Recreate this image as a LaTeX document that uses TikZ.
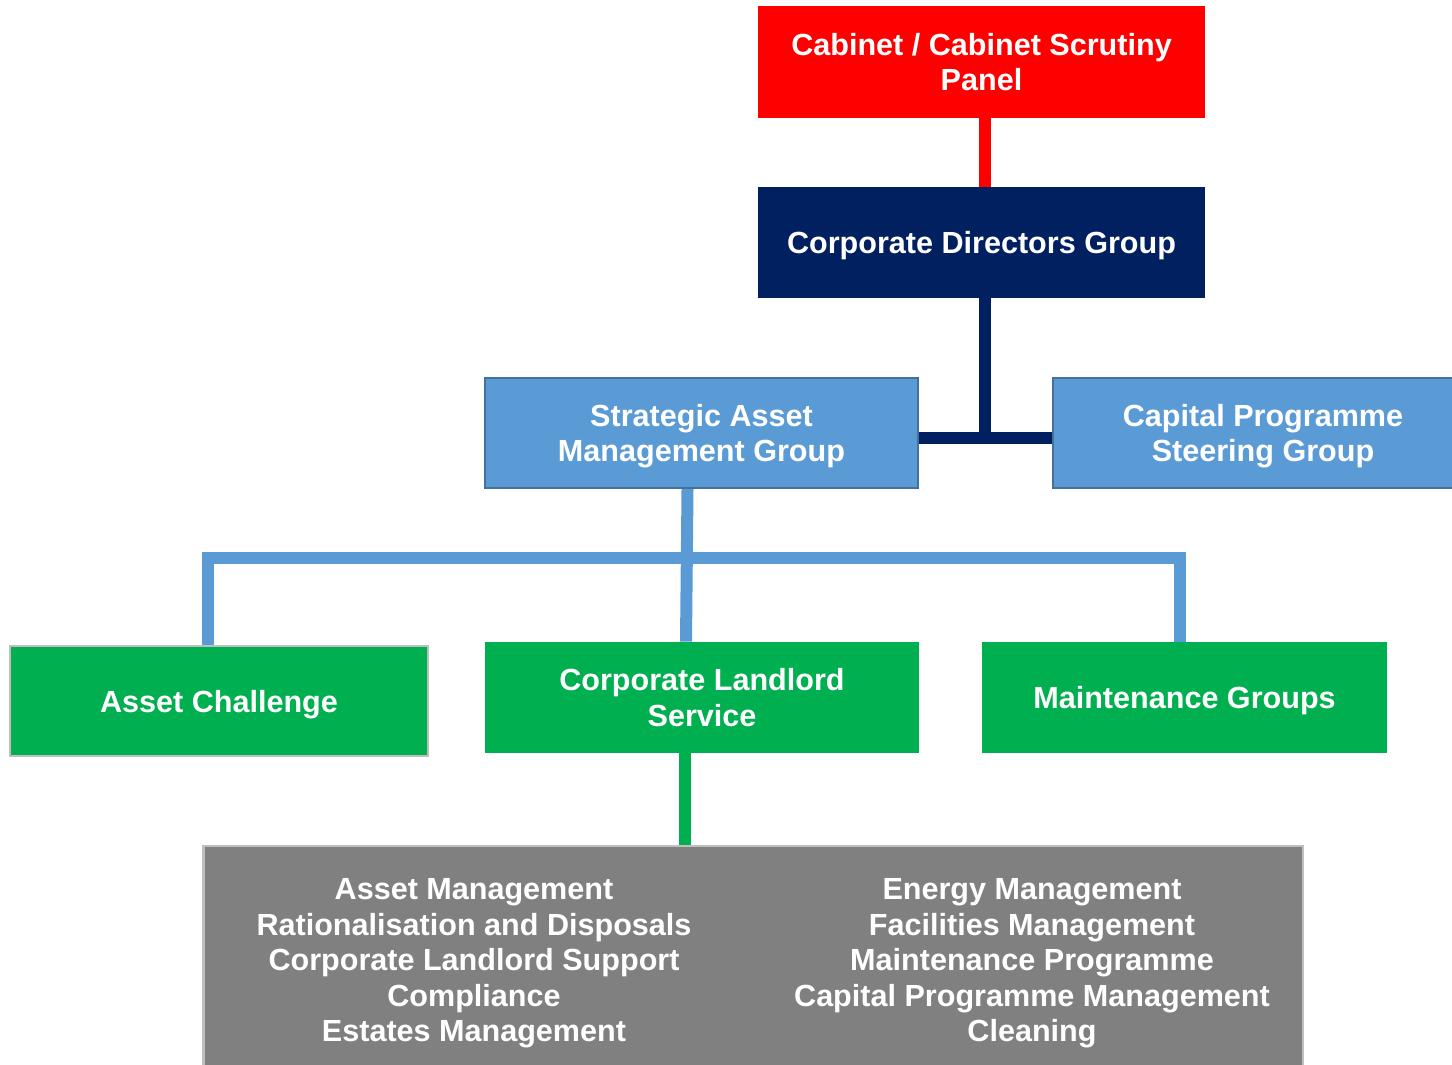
\documentclass[tikz,border=0pt]{standalone}
\usepackage{fontspec}
\setmainfont{Liberation Sans}
\definecolor{boardred}{HTML}{FF0000}
\definecolor{navy}{HTML}{002060}
\definecolor{groupblue}{HTML}{5B9BD5}
\definecolor{groupedge}{HTML}{41719C}
\definecolor{servgreen}{HTML}{00B050}
\definecolor{listgray}{HTML}{808080}
\definecolor{paleedge}{HTML}{BFBFBF}
\tikzset{
  box/.style={rectangle, inner sep=0pt, align=center, text=white, text depth=0pt,
    font=\fontsize{17.4}{20.2}\selectfont\bfseries},
  lowtext/.style={execute at begin node={\rule{0pt}{0.6cm}}},
  link/.style={line width=0.24cm, line join=miter}
}
\begin{document}
\begin{tikzpicture}[x=0.02cm,y=-0.02cm]
                \useasboundingbox (0,0) rectangle (1452,1064);
                \node[box, lowtext, fill=boardred, minimum width=8.94cm, minimum height=2.24cm] (cabinet) at (981.5,62) {Cabinet / Cabinet Scrutiny\\Panel};
                \node[box, fill=navy, minimum width=8.94cm, minimum height=2.22cm] (cdg) at (981.5,242.5) {Corporate Directors Group};
                \node[box, fill=groupblue, draw=groupedge, line width=1.2pt, minimum width=8.66cm, minimum height=2.2cm] (samg) at (701.5,433) {Strategic Asset\\Management Group};
                \node[box, fill=groupblue, draw=groupedge, line width=1.2pt, minimum width=8.4cm, minimum height=2.2cm] (cpsg) at (1263,433) {Capital Programme\\Steering Group};
                \node[box, fill=servgreen, draw=paleedge, line width=1.2pt, minimum width=8.36cm, minimum height=2.2cm] (ac) at (219,701) {Asset Challenge};
                \node[box, lowtext, fill=servgreen, minimum width=8.68cm, minimum height=2.22cm] (cls) at (702,697.5) {Corporate Landlord\\Service};
                \node[box, fill=servgreen, minimum width=8.1cm, minimum height=2.22cm] (mg) at (1184.5,697.5) {Maintenance Groups};
                \node[box, fill=listgray, draw=paleedge, line width=1.6pt, minimum width=22cm, minimum height=4.68cm] (services) at (753,963) {};
                \node[box] (leftlist) at (474,960) {Asset Management\\Rationalisation and Disposals\\Corporate Landlord Support\\Compliance\\Estates Management};
                \node[box] (rightlist) at (1032,960) {Energy Management\\Facilities Management\\Maintenance Programme\\Capital Programme Management\\Cleaning};
                \coordinate (bus) at (687,558);
                \draw[link, boardred] ([xshift=0.06cm]cabinet.south) -- ([xshift=0.06cm]cdg.north);
                \draw[link, navy] ([xshift=0.06cm]cdg.south) -- ([xshift=0.06cm,yshift=-0.1cm]cdg.south |- samg.east);
                \draw[link, navy] ([yshift=-0.1cm]samg.east) -- ([yshift=-0.1cm]cpsg.west);
                \draw[link, groupblue] ([xshift=-0.28cm]samg.south) -- ([xshift=-0.32cm]cls.north);
                \draw[link, groupblue] ([xshift=-0.22cm]ac.north) |- (bus) -| ([xshift=-0.09cm]mg.north);
                \draw[link, servgreen] ([xshift=-0.34cm]cls.south) -- ([xshift=-0.34cm]cls.south |- services.north);
\end{tikzpicture}
\end{document}
